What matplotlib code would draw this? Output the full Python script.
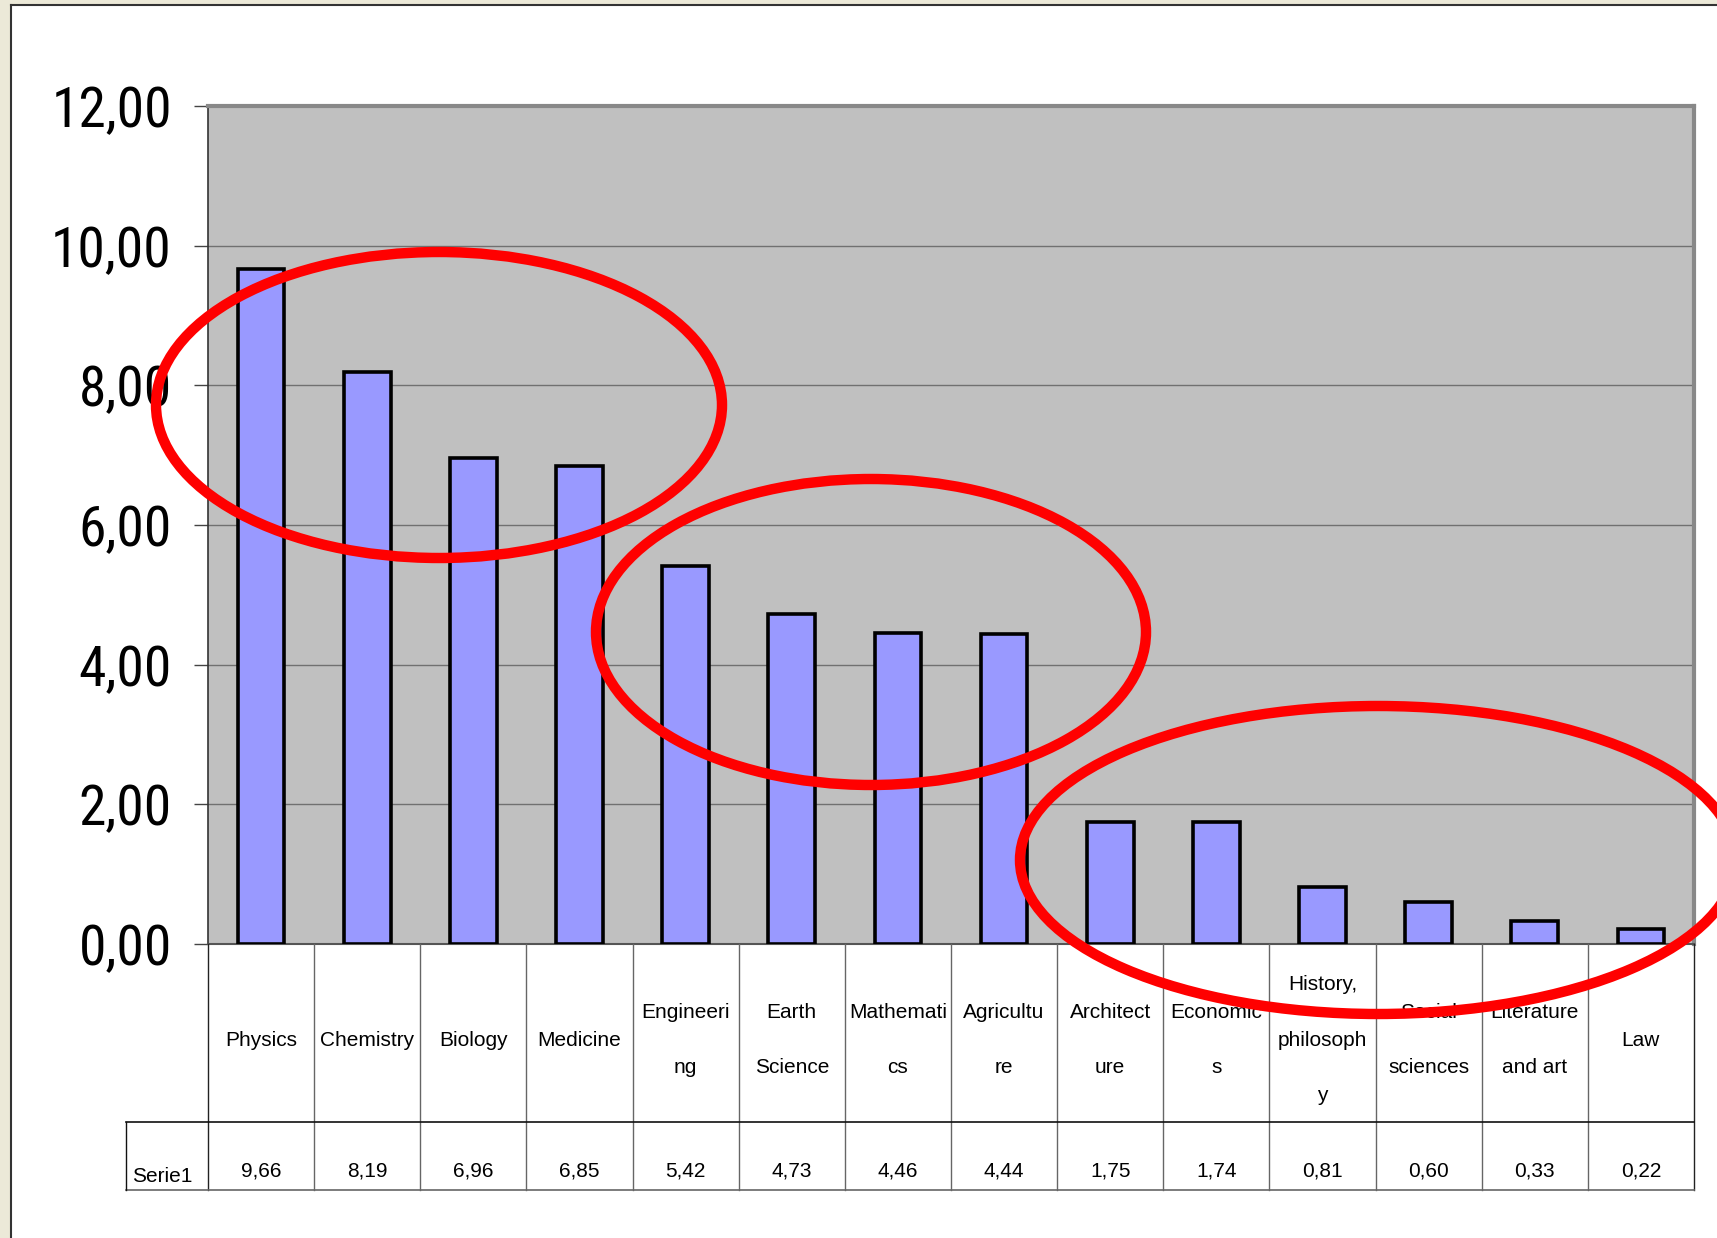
import matplotlib
matplotlib.use("Agg")
import matplotlib.pyplot as plt
from matplotlib import font_manager
from matplotlib.patches import Ellipse, Rectangle
from matplotlib.lines import Line2D
from matplotlib.transforms import blended_transform_factory

categories = ["Physics", "Chemistry", "Biology", "Medicine", "Engineering",
              "Earth Science", "Mathematics", "Agriculture", "Architecture",
              "Economics", "History, philosophy", "Social sciences",
              "Literature and art", "Law"]
cell_labels = ["Physics", "Chemistry", "Biology", "Medicine", "Engineeri\nng",
               "Earth\nScience", "Mathemati\ncs", "Agricultu\nre", "Architect\nure",
               "Economic\ns", "History,\nphilosoph\ny", "Social\nsciences",
               "Literature\nand art", "Law"]
values = [9.66, 8.19, 6.96, 6.85, 5.42, 4.73, 4.46, 4.44, 1.75, 1.74,
          0.81, 0.60, 0.33, 0.22]
series_name = "Serie1"
y_ticks = [0, 2, 4, 6, 8, 10, 12]

names = {f.name for f in font_manager.fontManager.ttflist}

def pick(cands):
    found = [f for f in cands if f in names]
    return found + ["DejaVu Sans"]

NARROW = pick(["Liberation Sans Narrow", "Roboto Condensed", "Archivo Narrow"])
REGULAR = pick(["Liberation Sans", "Arimo"])
plt.rcParams["font.family"] = REGULAR

W, H = 1717, 1238
fig = plt.figure(figsize=(W / 100, H / 100), dpi=100)
fig.patch.set_facecolor("#ECE9D8")

def fx(x):
    return x / W

def fy(y):
    return 1 - y / H

# white slide area with dark border on top/left
fig.add_artist(Rectangle((fx(11), 0), 1 - fx(11), fy(5), transform=fig.transFigure,
                         facecolor="white", edgecolor="none", zorder=0))
fig.add_artist(Line2D([fx(11), 1], [fy(5), fy(5)], transform=fig.transFigure,
                      color="#333333", lw=1.5, zorder=1))
fig.add_artist(Line2D([fx(11), fx(11)], [0, fy(5)], transform=fig.transFigure,
                      color="#333333", lw=1.5, zorder=1))

left, right, top, base = 208, 1694, 106, 944
ax = fig.add_axes([fx(left), fy(base), fx(right) - fx(left), fy(top) - fy(base)])
ax.set_facecolor("#C0C0C0")
n = len(values)
ax.set_xlim(-0.5, n - 0.5)
ax.set_ylim(0, 12)

ax.bar(range(n), values, width=0.44, color="#9999FF", edgecolor="black",
       linewidth=2.6, zorder=3)

ax.set_yticks(y_ticks)
ax.set_yticklabels([f"{t:.2f}".replace(".", ",") for t in y_ticks], fontsize=40,
                   family=NARROW)
ax.tick_params(axis="y", length=10, width=1, color="#444444", pad=16)
ax.set_xticks([])
ax.yaxis.grid(True, color="#707070", lw=1.0, zorder=1)
ax.set_axisbelow(True)
for side in ["top", "right"]:
    ax.spines[side].set_color("#888888")
    ax.spines[side].set_linewidth(3)
ax.spines["left"].set_color("#333333")
ax.spines["left"].set_linewidth(1.2)
ax.spines["bottom"].set_color("#555555")
ax.spines["bottom"].set_linewidth(1.5)

# data table under the plot
tr = blended_transform_factory(ax.transData, fig.transFigure)
row1, row2 = 1122, 1190
for i in range(n + 1):
    xb = i - 0.5
    col = "#222222" if i in (0, n) else "#666666"
    fig.add_artist(Line2D([xb, xb], [fy(base), fy(row2)], transform=tr,
                          color=col, lw=1.0, clip_on=False))
fig.add_artist(Line2D([fx(126), fx(right)], [fy(row1), fy(row1)], transform=fig.transFigure,
                      color="#111111", lw=1.2))
fig.add_artist(Line2D([fx(126), fx(right)], [fy(row2), fy(row2)], transform=fig.transFigure,
                      color="#666666", lw=1.2))
fig.add_artist(Line2D([fx(126), fx(126)], [fy(row1), fy(row2)], transform=fig.transFigure,
                      color="#111111", lw=1.0))

for i, (lab, v) in enumerate(zip(cell_labels, values)):
    fig.text(i, fy((base + row1) / 2 + 7), lab, transform=tr, ha="center", va="center",
             fontsize=15, linespacing=3.45, color="black")
    fig.text(i, fy(1171), f"{v:.2f}".replace(".", ","), transform=tr, ha="center",
             va="center", fontsize=15, color="black")
fig.text(fx(132), fy(1176), series_name, ha="left", va="center", fontsize=15,
         color="black")

# red highlight ellipses grouping the fields
groups = [((439, 405), 566, 306), ((871, 632), 550, 306), ((1378, 860), 716, 308)]
for (cx, cy), w, h in groups:
    fig.add_artist(Ellipse((fx(cx), fy(cy)), w / W, h / H, transform=fig.transFigure,
                           facecolor="none", edgecolor="#FF0000", lw=7.5, zorder=10))

fig.savefig("out.png", dpi=100, facecolor=fig.get_facecolor())
